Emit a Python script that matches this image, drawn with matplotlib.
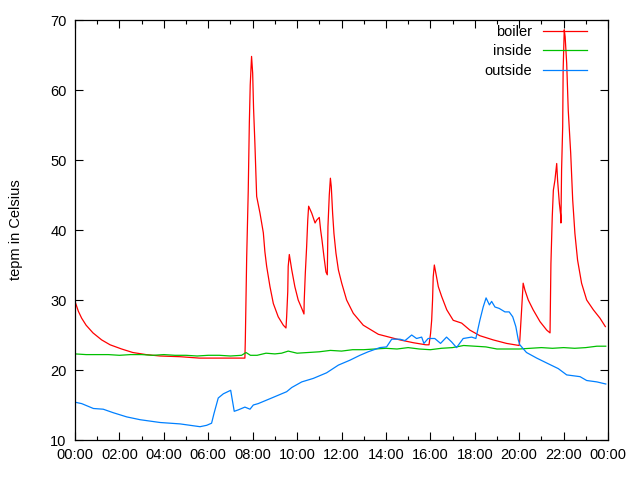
import matplotlib
matplotlib.use("Agg")
import matplotlib.pyplot as plt

plt.rcParams['font.family'] = ['Liberation Sans', 'DejaVu Sans']

# hora del dia (horas) y temperatura
boiler_h = [0.0, 0.15, 0.3, 0.5, 0.81, 1.2, 1.58, 2.1, 2.6, 3.2, 3.83, 4.73, 5.6, 6.5, 7.65,
            7.67, 7.73, 7.80, 7.85, 7.89, 7.95, 8.0, 8.04, 8.10, 8.15, 8.18, 8.33,
            8.48, 8.55, 8.63, 8.78, 8.93, 9.15, 9.38, 9.50, 9.53, 9.58, 9.60, 9.65,
            9.69, 9.76, 9.9, 10.05, 10.21, 10.31, 10.32, 10.37, 10.43, 10.48, 10.52,
            10.66, 10.81, 10.88, 11.0, 11.06, 11.12, 11.21, 11.30, 11.36, 11.39,
            11.45, 11.50, 11.54, 11.60, 11.66, 11.75, 11.86, 12.01, 12.23, 12.53,
            12.98, 13.66, 14.63, 15.23, 15.8, 15.94, 16.01, 16.06, 16.10, 16.13,
            16.18, 16.25, 16.36, 16.51, 16.74, 17.03, 17.41, 17.78, 18.23, 18.83,
            19.43, 20.0, 20.03, 20.11, 20.18, 20.26, 20.41, 20.63, 20.94, 21.24,
            21.39, 21.43, 21.49, 21.54, 21.61, 21.69, 21.73, 21.81, 21.87, 21.88,
            21.91, 21.96, 21.98, 22.03, 22.07, 22.14, 22.21, 22.32, 22.41, 22.51,
            22.63, 22.81, 23.04, 23.34, 23.64, 23.88]
boiler_t = [29.8, 28.4, 27.4, 26.4, 25.3, 24.3, 23.6, 23.0, 22.5, 22.2, 22.0, 21.9, 21.7, 21.7, 21.7,
            24.4, 36.0, 45.5, 55.3, 60.7, 64.8, 62.4, 57.4, 52.4, 47.6, 44.8, 42.4,
            39.6, 36.9, 34.8, 31.9, 29.5, 27.6, 26.4, 26.0, 27.6, 31.2, 34.8, 36.5,
            35.7, 34.3, 31.9, 30.0, 28.8, 28.0, 29.8, 33.8, 37.6, 41.4, 43.4,
            42.4, 41.0, 41.4, 41.8, 40.0, 38.6, 36.2, 34.0, 33.6, 40.5,
            45.0, 47.4, 46.2, 42.4, 39.5, 36.7, 34.3, 32.4, 30.0, 28.1,
            26.4, 25.1, 24.3, 23.9, 23.6, 23.6, 25.2, 27.1, 30.0, 33.3,
            35.0, 33.8, 31.9, 30.5, 28.6, 27.1, 26.7, 25.7, 24.9, 24.3,
            23.8, 23.5, 24.3, 28.6, 32.4, 31.4, 30.0, 28.6, 26.9, 25.7,
            25.3, 35.2, 41.9, 45.7, 47.1, 49.5, 47.1, 43.8, 42.1, 41.0,
            48.6, 54.8, 62.9, 68.6, 67.6, 63.8, 57.1, 51.0, 44.3, 39.5,
            35.7, 32.4, 30.0, 28.6, 27.4, 26.2]

inside_h = [0.0, 0.5, 1.0, 1.5, 2.0, 2.5, 3.0, 3.5, 4.0, 4.5, 5.0, 5.5, 6.0, 6.5, 7.0,
            7.5, 7.7, 7.9, 8.2, 8.6, 9.0, 9.3, 9.6, 10.0, 10.5, 11.0, 11.5, 12.0,
            12.5, 13.0, 13.5, 14.0, 14.5, 15.0, 15.5, 16.0, 16.5, 17.0, 17.5, 18.0,
            18.5, 19.0, 19.5, 20.0, 20.5, 21.0, 21.5, 22.0, 22.5, 23.0, 23.5, 23.9]
inside_t = [22.3, 22.2, 22.2, 22.2, 22.1, 22.2, 22.2, 22.1, 22.2, 22.1, 22.1, 22.0, 22.1,
            22.1, 22.0, 22.1, 22.5, 22.1, 22.1, 22.4, 22.3, 22.4, 22.7, 22.4, 22.5,
            22.6, 22.8, 22.7, 22.9, 22.9, 23.0, 23.1, 23.0, 23.2, 23.0, 22.9, 23.1,
            23.2, 23.5, 23.4, 23.3, 23.0, 23.0, 23.0, 23.1, 23.2, 23.1, 23.2, 23.1,
            23.2, 23.4, 23.4]

outside_h = [0.0, 0.3, 0.83, 1.27, 1.72, 2.33, 2.93, 3.83, 4.73, 5.63, 5.93, 6.15, 6.26,
             6.45, 6.68, 7.01, 7.17, 7.35, 7.65, 7.88, 8.03, 8.25, 8.78, 9.23, 9.53,
             9.76, 10.21, 10.73, 11.33, 11.86, 12.38, 12.83, 13.2, 13.73, 14.03, 14.26,
             14.63, 14.86, 15.16, 15.38, 15.61, 15.71, 15.9, 16.2, 16.46, 16.73, 16.96,
             17.18, 17.48, 17.86, 18.05, 18.23, 18.38, 18.51, 18.66, 18.76, 18.91,
             19.1, 19.36, 19.55, 19.71, 19.85, 19.96, 20.03, 20.33, 20.79, 21.24,
             21.76, 22.14, 22.74, 23.04, 23.5, 23.9]
outside_t = [15.4, 15.2, 14.5, 14.4, 13.9, 13.3, 12.9, 12.5, 12.3, 11.9, 12.1, 12.4, 13.8,
             16.0, 16.6, 17.1, 14.1, 14.3, 14.7, 14.4, 15.0, 15.2, 15.9, 16.5, 16.9,
             17.5, 18.3, 18.8, 19.6, 20.7, 21.4, 22.1, 22.6, 23.2, 23.3, 24.4,
             24.4, 24.2, 25.0, 24.5, 24.7, 23.8, 24.5, 24.5, 23.8, 24.7, 24.0,
             23.2, 24.5, 24.7, 24.5, 27.1, 29.0, 30.3, 29.3, 29.8, 29.0,
             28.8, 28.3, 28.3, 27.6, 26.2, 24.3, 23.6, 22.5, 21.7, 21.0,
             20.2, 19.3, 19.05, 18.5, 18.3, 18.0]

xtick_h = list(range(0, 25, 2))
xtick_labels = ['00:00', '02:00', '04:00', '06:00', '08:00', '10:00', '12:00',
                '14:00', '16:00', '18:00', '20:00', '22:00', '00:00']

fig = plt.figure(figsize=(6.4, 4.8), dpi=100)
ax = fig.add_axes([75 / 640, 40 / 480, 533 / 640, 420 / 480])

ax.plot(boiler_h, boiler_t, color='#ff0000', lw=0.9, label='boiler')
ax.plot(inside_h, inside_t, color='#00c000', lw=0.9, label='inside')
ax.plot(outside_h, outside_t, color='#0080ff', lw=0.9, label='outside')

ax.set_xlim(0, 24)
ax.set_ylim(10, 70)
ax.set_xticks(xtick_h)
ax.set_xticklabels(xtick_labels)
ax.set_xticks(range(0, 25), minor=True)
ax.set_yticks(range(10, 71, 10))
ax.tick_params(which='both', direction='in', top=True, right=True,
               labelsize=10.5, width=0.8, pad=6)
ax.tick_params(which='major', length=6)
ax.tick_params(which='minor', length=3)
for s in ax.spines.values():
    s.set_linewidth(0.9)

ax.set_ylabel('tepm in Celsius', fontsize=10.5, labelpad=20)

leg = ax.legend(loc='upper right', frameon=False, markerfirst=False,
                fontsize=10.5, handlelength=3.0, labelspacing=0.38,
                borderaxespad=0.0, handletextpad=0.8,
                bbox_to_anchor=(1 - 15 / 533, 1 + 1 / 420))
for t in leg.get_texts():
    t.set_ha('right')

fig.savefig('out.png', dpi=100)
